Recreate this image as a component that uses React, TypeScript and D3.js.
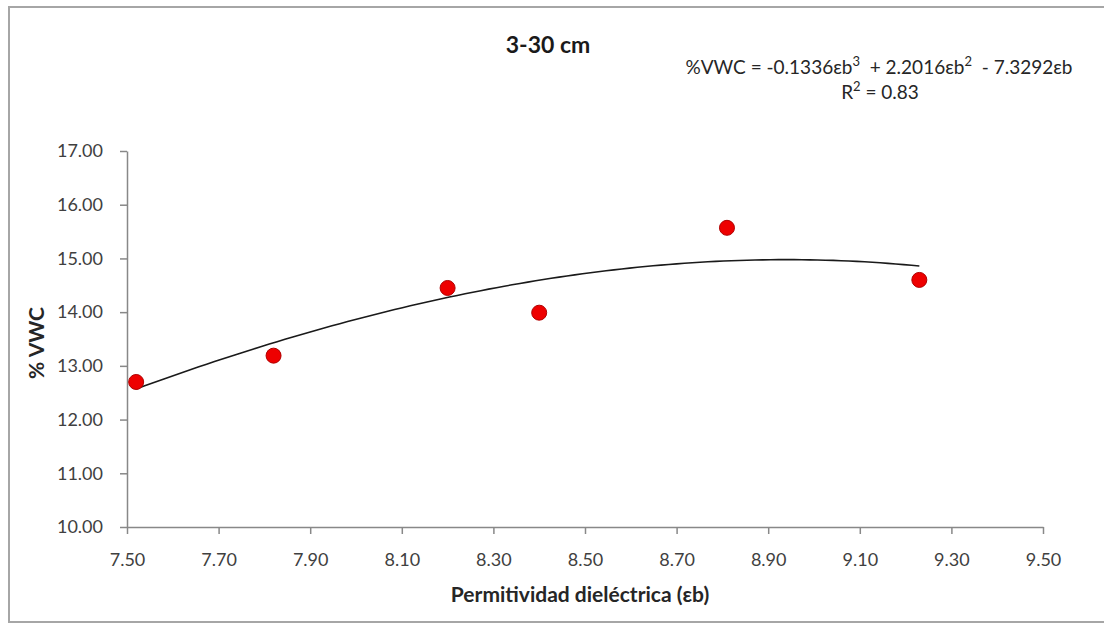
import React, { useEffect, useRef } from "react";
import * as d3 from "d3";

// measured points (permitividad vs %VWC)
const permitividad = [7.52, 7.82, 8.2, 8.4, 8.81, 9.23];
const vwc = [12.7, 13.19, 14.45, 13.99, 15.57, 14.6];

// trend line coefficients as printed on the chart (eb^3, eb^2, eb, const)
const trendCoef = [-0.1336, 2.2016, -7.3292, 0];

const xTickValues = [7.5, 7.7, 7.9, 8.1, 8.3, 8.5, 8.7, 8.9, 9.1, 9.3, 9.5];
const yTickValues = [10, 11, 12, 13, 14, 15, 16, 17];

const chartTitle = "3-30 cm";
const xTitle = "Permitividad dieléctrica (εb)";
const yTitle = "% VWC";

const W = 1104;
const H = 623;
const FONT = "Lato, 'Open Sans', sans-serif";

const App = () => {
  const svgRef = useRef<SVGSVGElement>(null);

  useEffect(() => {
    const svg = d3.select(svgRef.current);
    svg.selectAll("*").remove();

    const x = d3.scaleLinear().domain([7.5, 9.5]).range([127, 1043]);
    const y = d3.scaleLinear().domain([10, 17]).range([527, 151]);

    // background + outer frame
    svg.append("rect").attr("width", W).attr("height", H).attr("fill", "#fff");
    svg.append("rect")
      .attr("x", 9).attr("y", 7)
      .attr("width", W + 10).attr("height", H - 8)
      .attr("fill", "none").attr("stroke", "#a6a6a6").attr("stroke-width", 2);

    // axes
    const xAxis = svg.append("g")
      .attr("transform", `translate(0,${y(10)})`)
      .call(d3.axisBottom(x).tickValues(xTickValues).tickSize(7).tickSizeOuter(0)
        .tickFormat(d3.format(".2f")));
    const yAxis = svg.append("g")
      .attr("transform", `translate(${x(7.5)},0)`)
      .call(d3.axisLeft(y).tickValues(yTickValues).tickSize(7).tickSizeOuter(0)
        .tickFormat(d3.format(".2f")));

    [xAxis, yAxis].forEach(a => {
      a.select(".domain").attr("stroke", "#888").attr("stroke-width", 1.5);
      a.selectAll(".tick line").attr("stroke", "#888").attr("stroke-width", 1.5);
      a.selectAll(".tick text")
        .attr("fill", "#404040")
        .style("font-family", FONT)
        .style("font-size", "18px");
    });
    xAxis.selectAll(".tick text").attr("dy", "0.71em").attr("y", 26);
    yAxis.selectAll(".tick text").attr("x", -24);

    // trend line from the printed polynomial
    const poly = (v: number) =>
      trendCoef[0] * v ** 3 + trendCoef[1] * v ** 2 + trendCoef[2] * v + trendCoef[3];
    const [x0, x1] = d3.extent(permitividad) as [number, number];
    const curve = d3.range(0, 101).map(i => x0 + (x1 - x0) * i / 100);
    svg.append("path")
      .datum(curve)
      .attr("d", d3.line<number>().x(d => x(d)).y(d => y(poly(d))))
      .attr("fill", "none")
      .attr("stroke", "#1a1a1a")
      .attr("stroke-width", 1.6);

    // points
    svg.selectAll("circle.pt")
      .data(permitividad.map((p, i) => ({ p, v: vwc[i] })))
      .join("circle")
      .attr("class", "pt")
      .attr("cx", d => x(d.p))
      .attr("cy", d => y(d.v))
      .attr("r", 7.5)
      .attr("fill", "#ee0000")
      .attr("stroke", "#b00000")
      .attr("stroke-width", 1);

    // titles
    svg.append("text")
      .attr("x", 548).attr("y", 53)
      .attr("text-anchor", "middle")
      .style("font-family", FONT).style("font-weight", 700).style("font-size", "23px")
      .attr("fill", "#1a1a1a")
      .text(chartTitle);

    svg.append("text")
      .attr("x", 580).attr("y", 602)
      .attr("text-anchor", "middle")
      .style("font-family", FONT).style("font-weight", 700).style("font-size", "21px")
      .attr("fill", "#262626")
      .text(xTitle);

    svg.append("text")
      .attr("transform", `translate(44,343) rotate(-90)`)
      .attr("text-anchor", "middle")
      .style("font-family", FONT).style("font-weight", 700).style("font-size", "21px")
      .attr("fill", "#262626")
      .text(yTitle);

    // equation
    const eq = svg.append("text")
      .attr("x", 879).attr("y", 74)
      .attr("text-anchor", "middle")
      .style("font-family", FONT).style("font-size", "19px")
      .attr("fill", "#262626")
      .attr("xml:space", "preserve");
    const fmt = (n: number) => Math.abs(n).toFixed(4);
    eq.append("tspan").text(`%VWC = -${fmt(trendCoef[0])}εb`);
    eq.append("tspan").attr("dy", -8).style("font-size", "13px").text("3");
    eq.append("tspan").attr("dy", 8).text(`  + ${fmt(trendCoef[1])}εb`);
    eq.append("tspan").attr("dy", -8).style("font-size", "13px").text("2");
    eq.append("tspan").attr("dy", 8).text(`  - ${fmt(trendCoef[2])}εb`);

    const r2 = svg.append("text")
      .attr("x", 880).attr("y", 99)
      .attr("text-anchor", "middle")
      .style("font-family", FONT).style("font-size", "19px")
      .attr("fill", "#262626");
    r2.append("tspan").text("R");
    r2.append("tspan").attr("dy", -8).style("font-size", "13px").text("2");
    r2.append("tspan").attr("dy", 8).text(" = 0.83");
  }, []);

  return (
    <svg
      ref={svgRef}
      width={W}
      height={H}
      style={{ position: "absolute", left: 0, top: 0 }}
    />
  );
};

export default App;
